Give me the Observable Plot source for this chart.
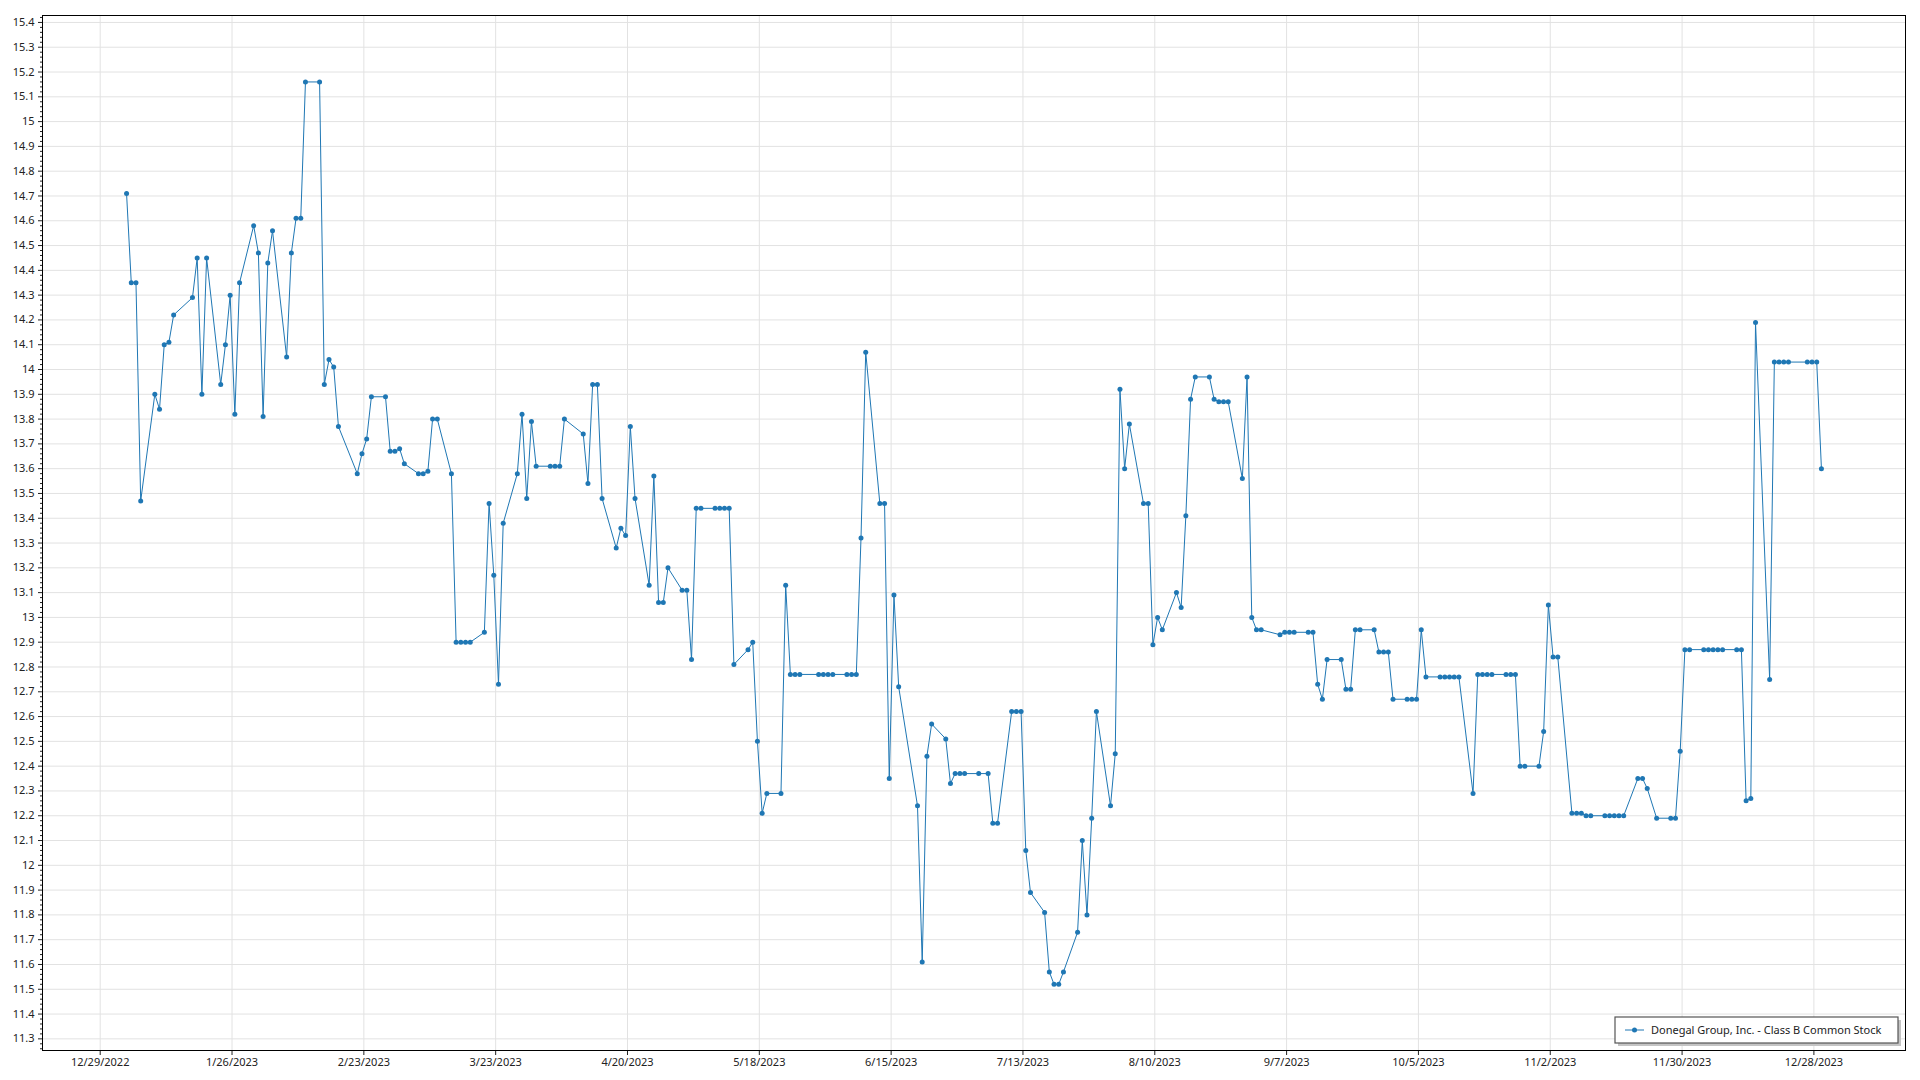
<!DOCTYPE html>
<html>
<head>
<meta charset="utf-8">
<script src="https://cdn.jsdelivr.net/npm/d3@7"></script>
<script src="https://cdn.jsdelivr.net/npm/@observablehq/plot@0.6"></script>
<style>
  html, body { margin: 0; padding: 0; background: #ffffff; }
  #chart { width: 1920px; height: 1080px; }
</style>
</head>
<body>
<div id="chart"></div>
<script>
const seriesName = "Donegal Group, Inc. - Class B Common Stock";

const q1Dates = ["2023-01-03","2023-01-04","2023-01-05","2023-01-06","2023-01-09","2023-01-10","2023-01-11","2023-01-12","2023-01-13","2023-01-17","2023-01-18","2023-01-19","2023-01-20","2023-01-23","2023-01-24","2023-01-25","2023-01-26","2023-01-27","2023-01-30","2023-01-31",
"2023-02-01","2023-02-02","2023-02-03","2023-02-06","2023-02-07","2023-02-08","2023-02-09","2023-02-10","2023-02-13","2023-02-14","2023-02-15","2023-02-16","2023-02-17","2023-02-21","2023-02-22","2023-02-23","2023-02-24","2023-02-27","2023-02-28",
"2023-03-01","2023-03-02","2023-03-03","2023-03-06","2023-03-07","2023-03-08","2023-03-09","2023-03-10","2023-03-13","2023-03-14","2023-03-15","2023-03-16","2023-03-17","2023-03-20","2023-03-21","2023-03-22","2023-03-23","2023-03-24","2023-03-27","2023-03-28","2023-03-29","2023-03-30","2023-03-31"];
const q1Close = [14.71,14.35,14.35,13.47,13.90,13.84,14.10,14.11,14.22,14.29,14.45,13.90,14.45,13.94,14.10,14.30,13.82,14.35,14.58,14.47,
13.81,14.43,14.56,14.05,14.47,14.61,14.61,15.16,15.16,13.94,14.04,14.01,13.77,13.58,13.66,13.72,13.89,13.89,13.67,
13.67,13.68,13.62,13.58,13.58,13.59,13.80,13.80,13.58,12.90,12.90,12.90,12.90,12.94,13.46,13.17,12.73,13.38,13.58,13.82,13.48,13.79,13.61];

const q2Dates = ["2023-04-03","2023-04-04","2023-04-05","2023-04-06","2023-04-10","2023-04-11","2023-04-12","2023-04-13","2023-04-14","2023-04-17","2023-04-18","2023-04-19","2023-04-20","2023-04-21","2023-04-24","2023-04-25","2023-04-26","2023-04-27","2023-04-28",
"2023-05-01","2023-05-02","2023-05-03","2023-05-04","2023-05-05","2023-05-08","2023-05-09","2023-05-10","2023-05-11","2023-05-12","2023-05-15","2023-05-16","2023-05-17","2023-05-18","2023-05-19","2023-05-22","2023-05-23","2023-05-24","2023-05-25","2023-05-26","2023-05-30","2023-05-31",
"2023-06-01","2023-06-02","2023-06-05","2023-06-06","2023-06-07","2023-06-08","2023-06-09","2023-06-12","2023-06-13","2023-06-14","2023-06-15","2023-06-16","2023-06-20","2023-06-21","2023-06-22","2023-06-23","2023-06-26","2023-06-27","2023-06-28","2023-06-29","2023-06-30"];
const q2Close = [13.61,13.61,13.61,13.80,13.74,13.54,13.94,13.94,13.48,13.28,13.36,13.33,13.77,13.48,13.13,13.57,13.06,13.06,13.20,
13.11,13.11,12.83,13.44,13.44,13.44,13.44,13.44,13.44,12.81,12.87,12.90,12.50,12.21,12.29,12.29,13.13,12.77,12.77,12.77,12.77,12.77,
12.77,12.77,12.77,12.77,12.77,13.32,14.07,13.46,13.46,12.35,13.09,12.72,12.24,11.61,12.44,12.57,12.51,12.33,12.37,12.37,12.37];

const q3Dates = ["2023-07-03","2023-07-05","2023-07-06","2023-07-07","2023-07-10","2023-07-11","2023-07-12","2023-07-13","2023-07-14","2023-07-17","2023-07-18","2023-07-19","2023-07-20","2023-07-21","2023-07-24","2023-07-25","2023-07-26","2023-07-27","2023-07-28","2023-07-31",
"2023-08-01","2023-08-02","2023-08-03","2023-08-04","2023-08-07","2023-08-08","2023-08-09","2023-08-10","2023-08-11","2023-08-14","2023-08-15","2023-08-16","2023-08-17","2023-08-18","2023-08-21","2023-08-22","2023-08-23","2023-08-24","2023-08-25","2023-08-28","2023-08-29","2023-08-30","2023-08-31",
"2023-09-01","2023-09-05","2023-09-06","2023-09-07","2023-09-08","2023-09-11","2023-09-12","2023-09-13","2023-09-14","2023-09-15","2023-09-18","2023-09-19","2023-09-20","2023-09-21","2023-09-22","2023-09-25","2023-09-26","2023-09-27","2023-09-28","2023-09-29"];
const q3Close = [12.37,12.37,12.17,12.17,12.62,12.62,12.62,12.06,11.89,11.81,11.57,11.52,11.52,11.57,11.73,12.10,11.80,12.19,12.62,12.24,
12.45,13.92,13.60,13.78,13.46,13.46,12.89,13.00,12.95,13.10,13.04,13.41,13.88,13.97,13.97,13.88,13.87,13.87,13.87,13.56,13.97,13.00,12.95,
12.95,12.93,12.94,12.94,12.94,12.94,12.94,12.73,12.67,12.83,12.83,12.71,12.71,12.95,12.95,12.95,12.86,12.86,12.86,12.67];

const q4Dates = ["2023-10-02","2023-10-03","2023-10-04","2023-10-05","2023-10-06","2023-10-09","2023-10-10","2023-10-11","2023-10-12","2023-10-13","2023-10-16","2023-10-17","2023-10-18","2023-10-19","2023-10-20","2023-10-23","2023-10-24","2023-10-25","2023-10-26","2023-10-27","2023-10-30","2023-10-31",
"2023-11-01","2023-11-02","2023-11-03","2023-11-06","2023-11-07","2023-11-08","2023-11-09","2023-11-10","2023-11-13","2023-11-14","2023-11-15","2023-11-16","2023-11-17","2023-11-20","2023-11-21","2023-11-22","2023-11-24","2023-11-27","2023-11-28","2023-11-29","2023-11-30",
"2023-12-01","2023-12-04","2023-12-05","2023-12-06","2023-12-07","2023-12-08","2023-12-11","2023-12-12","2023-12-13","2023-12-14","2023-12-15","2023-12-18","2023-12-19","2023-12-20","2023-12-21","2023-12-22","2023-12-26","2023-12-27","2023-12-28","2023-12-29"];
const q4Close = [12.67,12.67,12.67,12.95,12.76,12.76,12.76,12.76,12.76,12.76,12.29,12.77,12.77,12.77,12.77,12.77,12.77,12.77,12.40,12.40,12.40,12.54,
13.05,12.84,12.84,12.21,12.21,12.21,12.20,12.20,12.20,12.20,12.20,12.20,12.20,12.35,12.35,12.31,12.19,12.19,12.19,12.46,12.87,
12.87,12.87,12.87,12.87,12.87,12.87,12.87,12.87,12.26,12.27,14.19,12.75,14.03,14.03,14.03,14.03,14.03,14.03,14.03,13.60];

const xTickLabels = ["12/29/2022","1/26/2023","2/23/2023","3/23/2023","4/20/2023","5/18/2023","6/15/2023","7/13/2023","8/10/2023","9/7/2023","10/5/2023","11/2/2023","11/30/2023","12/28/2023"];
const yTickValues = d3.range(113, 155).map(v => v / 10);
const yMinorValues = d3.range(1126, 1543, 2).map(v => v / 100).filter(v => Math.round(v * 100) % 10 !== 0);

const lineColor = "#1f77b4";

const allDates = [...q1Dates, ...q2Dates, ...q3Dates, ...q4Dates];
const allClose = [...q1Close, ...q2Close, ...q3Close, ...q4Close];
const data = allDates.map((d, i) => ({ date: new Date(d + "T14:24:00Z"), close: allClose[i] }));

const xTickDates = xTickLabels.map(s => { const [m, d, y] = s.split("/").map(Number); return new Date(Date.UTC(y, m - 1, d)); });

const ext = d3.extent(data, d => +d.date);
const pad = (ext[1] - ext[0]) * 0.0496;
const xDomain = [new Date(ext[0] - pad), new Date(ext[1] + pad)];

const W = 1920, H = 1080, mT = 15, mR = 15, mB = 30, mL = 42;

const chart = Plot.plot({
  width: W, height: H,
  marginTop: mT, marginRight: mR, marginBottom: mB, marginLeft: mL,
  style: { fontFamily: "'Noto Sans', sans-serif", fontSize: "11px", color: "#222", background: "#fff", overflow: "visible" },
  x: { type: "utc", domain: xDomain },
  y: { domain: [11.253, 15.428] },
  marks: [
    Plot.gridY(yTickValues, { stroke: "#e2e2e2", strokeOpacity: 1, strokeWidth: 1 }),
    Plot.gridX(xTickDates, { stroke: "#e2e2e2", strokeOpacity: 1, strokeWidth: 1 }),
    Plot.axisY(yMinorValues, { tickSize: 2, tickFormat: () => "", label: null }),
    Plot.axisY(yTickValues, { tickSize: 4, tickPadding: 4, tickFormat: v => String(+v.toFixed(1)), label: null }),
    Plot.axisX(xTickDates, { tickSize: 5, tickPadding: 3, tickFormat: d3.utcFormat("%-m/%-d/%Y"), label: null }),
    Plot.line(data, { x: "date", y: "close", stroke: lineColor, strokeWidth: 1 }),
    Plot.dot(data, { x: "date", y: "close", r: 2.5, fill: lineColor, stroke: null }),
    Plot.frame({ stroke: "#000", strokeWidth: 1 })
  ]
});

document.getElementById("chart").appendChild(chart);

// Legend (inside plot, bottom-right)
const svg = d3.select(chart);
const lw = 283, lh = 26;
const lx = W - mR - 7 - lw, ly = H - mB - 7 - lh;
const lg = svg.append("g")
  .attr("font-family", "'Noto Sans', sans-serif")
  .attr("font-size", 11)
  .attr("text-anchor", "start");
lg.append("rect").attr("x", lx + 3).attr("y", ly + 3).attr("width", lw).attr("height", lh).attr("fill", "#c4c4c4");
lg.append("rect").attr("x", lx).attr("y", ly).attr("width", lw).attr("height", lh).attr("fill", "#fff").attr("stroke", "#555").attr("stroke-width", 1.2);
lg.append("line").attr("x1", lx + 10).attr("x2", lx + 29).attr("y1", ly + lh / 2).attr("y2", ly + lh / 2).attr("stroke", lineColor).attr("stroke-width", 1);
lg.append("circle").attr("cx", lx + 19.5).attr("cy", ly + lh / 2).attr("r", 2.5).attr("fill", lineColor);
lg.append("text").attr("x", lx + 36).attr("y", ly + lh / 2).attr("dy", "0.35em").attr("text-anchor", "start").attr("fill", "#222").text(seriesName);
</script>
</body>
</html>
